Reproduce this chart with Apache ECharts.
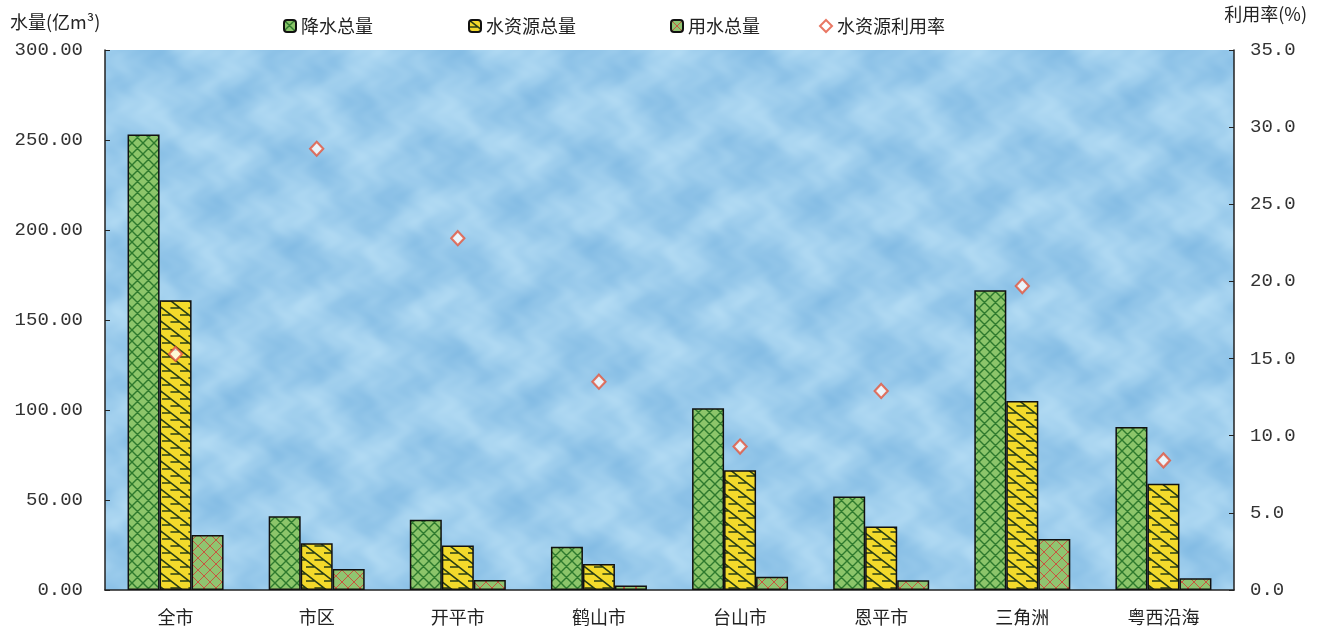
<!DOCTYPE html>
<html>
<head>
<meta charset="utf-8">
<script src="https://cdn.jsdelivr.net/npm/echarts@6/dist/echarts.min.js"></script>
<style>
html,body{margin:0;padding:0;background:#ffffff;}
#chart{width:1317px;height:635px;}
</style>
</head>
<body>
<div id="chart"></div>
<script>
// ---- data ----
const categories = ['全市', '市区', '开平市', '鹤山市', '台山市', '恩平市', '三角洲', '粤西沿海'];
const precipitation = [253, 41, 39, 24, 101, 52, 166.5, 90.5];      // 降水总量 (亿m³)
const waterResources = [161, 26, 24.7, 14.5, 66.5, 35.3, 105, 59];  // 水资源总量 (亿m³)
const waterUse = [30.5, 11.7, 5.6, 2.5, 7.4, 5.4, 28.3, 6.5];        // 用水总量 (亿m³)
const utilizationRate = [15.3, 28.6, 22.8, 13.5, 9.3, 12.9, 19.7, 8.4]; // 水资源利用率 (%)
const seriesNames = ['降水总量', '水资源总量', '用水总量', '水资源利用率'];
const leftTicks = {min: 0, max: 300, interval: 50};
const rightTicks = {min: 0, max: 35, interval: 5};

// ---- patterns (style only) ----
function crossHatch(bg, line, lw, s) {
  const c = document.createElement('canvas');
  c.width = s; c.height = s;
  const g = c.getContext('2d');
  g.fillStyle = bg; g.fillRect(0, 0, s, s);
  g.strokeStyle = line; g.lineWidth = lw;
  g.beginPath();
  for (let k = -s; k <= s; k += s) {
    g.moveTo(k, 0); g.lineTo(k + s, s);
    g.moveTo(k + s, 0); g.lineTo(k, s);
  }
  g.stroke();
  return c;
}
function scalePattern() {
  const w = 18, h = 14;
  const c = document.createElement('canvas');
  c.width = w; c.height = h;
  const g = c.getContext('2d');
  g.fillStyle = '#f3da2b'; g.fillRect(0, 0, w, h);
  g.strokeStyle = '#2a3f16'; g.lineWidth = 1.6; g.lineCap = 'round';
  g.beginPath();
  for (let k = -w; k <= w; k += w) {
    g.moveTo(k, 0); g.lineTo(k + w, h);
  }
  g.moveTo(0, h / 2); g.lineTo(w * 0.45, h / 2);
  g.moveTo(w / 2, 0); g.lineTo(w * 0.95, 0);
  g.moveTo(w / 2, h); g.lineTo(w * 0.95, h);
  g.stroke();
  return c;
}
function mottled() {
  const s = 300;
  const c = document.createElement('canvas');
  c.width = s; c.height = s;
  const g = c.getContext('2d');
  const img = g.createImageData(s, s);
  const T = 2 * Math.PI / s;
  for (let y = 0; y < s; y++) {
    for (let x = 0; x < s; x++) {
      let v = Math.sin(2 * T * x + 2.1 * Math.sin(3 * T * y + 0.7)) +
              Math.sin(3 * T * y + 1.7 * Math.sin(2 * T * x + 1.9)) +
              0.7 * Math.sin(5 * T * x + 2 * T * y + 1.5 * Math.sin(4 * T * y)) +
              0.5 * Math.sin(7 * T * y - 3 * T * x + 1.2 * Math.sin(6 * T * x + 0.4)) +
              0.3 * Math.sin(13 * T * x + 2 * Math.sin(11 * T * y));
      v = (v + 3.5) / 7; // 0..1
      const i = (y * s + x) * 4;
      img.data[i] = 132 + v * 48;
      img.data[i + 1] = 188 + v * 32;
      img.data[i + 2] = 228 + v * 16;
      img.data[i + 3] = 255;
    }
  }
  g.putImageData(img, 0, 0);
  return c;
}
const greenPat = {image: crossHatch('#8cc56a', '#2e7a2e', 1.4, 11), repeat: 'repeat'};
const yellowPat = {image: scalePattern(), repeat: 'repeat'};
const redPat = {image: crossHatch('#90c470', '#c8553f', 1, 12), repeat: 'repeat'};
const bgPat = {image: mottled(), repeat: 'repeat'};

const chart = echarts.init(document.getElementById('chart'), null, {renderer: 'canvas'});
const axisFont = {fontFamily: 'Liberation Mono, DejaVu Sans Mono, monospace', fontSize: 19, color: '#333'};
const cjk = '"Noto Sans CJK SC", "Noto Sans", sans-serif';
const legendText = {fontFamily: cjk, fontSize: 18, color: '#222'};

function legendItem(name, left) {
  return {
    data: [name],
    left: left, top: 12,
    itemWidth: 12, itemHeight: 12, itemGap: 4,
    textStyle: legendText,
    selectedMode: false
  };
}

const option = {
  backgroundColor: '#ffffff',
  animation: false,
  grid: {
    left: 105, right: 83, top: 50, bottom: 45,
    show: true, backgroundColor: bgPat, borderWidth: 0
  },
  legend: [
    legendItem(seriesNames[0], 278),
    legendItem(seriesNames[1], 463),
    legendItem(seriesNames[2], 665),
    legendItem(seriesNames[3], 814)
  ],
  graphic: [
    {type: 'text', left: 10, top: 13, style: {text: '水量(亿m³)', font: '18px ' + cjk, fill: '#222'}},
    {type: 'text', right: 10, top: 5, style: {text: '利用率(%)', font: '18px ' + cjk, fill: '#222'}}
  ],
  xAxis: {
    type: 'category',
    data: categories,
    boundaryGap: true,
    axisLine: {lineStyle: {color: '#222', width: 1.5}},
    axisTick: {inside: true, length: 5, lineStyle: {color: '#222'}},
    axisLabel: {margin: 18, fontFamily: cjk, fontSize: 18, color: '#222'}
  },
  yAxis: [
    {
      type: 'value', min: leftTicks.min, max: leftTicks.max, interval: leftTicks.interval,
      position: 'left',
      axisLine: {show: true, lineStyle: {color: '#222', width: 1.5}},
      axisTick: {show: true, inside: true, length: 5, lineStyle: {color: '#222'}},
      splitLine: {show: false},
      axisLabel: Object.assign({margin: 22, formatter: v => v.toFixed(2)}, axisFont)
    },
    {
      type: 'value', min: rightTicks.min, max: rightTicks.max, interval: rightTicks.interval,
      position: 'right',
      axisLine: {show: true, lineStyle: {color: '#222', width: 1.5}},
      axisTick: {show: true, inside: true, length: 5, lineStyle: {color: '#222'}},
      splitLine: {show: false},
      axisLabel: Object.assign({margin: 16, formatter: v => v.toFixed(1)}, axisFont)
    }
  ],
  series: [
    {
      name: seriesNames[0], type: 'bar', data: precipitation,
      barWidth: 32, barGap: '0%',
      itemStyle: {color: greenPat, borderColor: '#111', borderWidth: 1.5}
    },
    {
      name: seriesNames[1], type: 'bar', data: waterResources,
      barWidth: 32, barGap: '0%',
      itemStyle: {color: yellowPat, borderColor: '#111', borderWidth: 1.5}
    },
    {
      name: seriesNames[2], type: 'bar', data: waterUse,
      barWidth: 32, barGap: '0%',
      itemStyle: {color: redPat, borderColor: '#111', borderWidth: 1.5}
    },
    {
      name: seriesNames[3], type: 'scatter', yAxisIndex: 1, data: utilizationRate,
      symbol: 'diamond', symbolSize: [13, 14], z: 10,
      itemStyle: {color: '#ffffff', borderColor: '#e4553c', borderWidth: 2.2}
    }
  ]
};
chart.setOption(option);
</script>
</body>
</html>
